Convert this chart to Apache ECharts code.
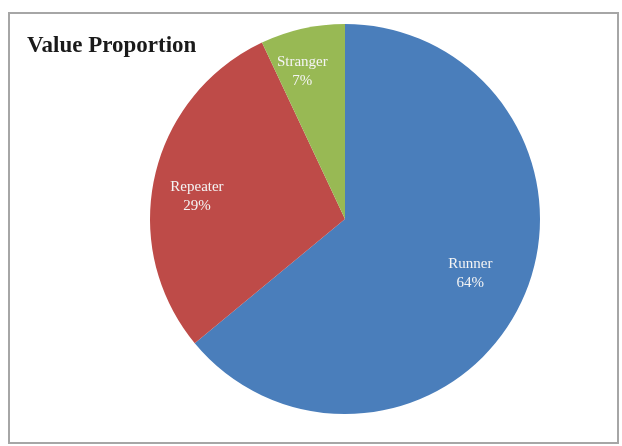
<!DOCTYPE html>
<html>
<head>
<meta charset="utf-8">
<script src="https://cdn.jsdelivr.net/npm/echarts@6/dist/echarts.min.js"></script>
<style>
  html, body { margin: 0; padding: 0; background: #fff; }
  #main { width: 622px; height: 446px; }
</style>
</head>
<body>
<div id="main"></div>
<script>
// 数据
var categories = ['Runner', 'Repeater', 'Stranger'];
var shares = [64, 29, 7];
var colors = ['#4a7ebb', '#be4b48', '#98b954'];

// 饼图位置
var cx = 345, cy = 219, radius = 195;
// 标签离圆心的比例 (Excel 的 best fit) + 微调
var labelRadius = [0.70, 0.77, 0.79];
var labelNudge = [[-2, -5], [3, 11], [-8, 8]];

var chart = echarts.init(document.getElementById('main'), null, { renderer: 'canvas' });

var pieData = categories.map(function (name, i) {
  return { name: name, value: shares[i], itemStyle: { color: colors[i] } };
});

var option = {
  backgroundColor: '#fff',
  animation: false,
  title: {
    text: 'Value Proportion',
    left: 22,
    top: 30,
    textStyle: {
      fontFamily: 'Liberation Serif',
      fontWeight: 'bold',
      fontSize: 23,
      color: '#1a1a1a'
    }
  },
  graphic: [{
    type: 'rect',
    shape: { x: 9, y: 13, width: 609, height: 430 },
    style: { fill: 'none', stroke: '#a6a6a6', lineWidth: 2 },
    silent: true
  }],
  series: [{
    type: 'pie',
    center: [cx, cy],
    radius: radius,
    startAngle: 90,
    clockwise: true,
    data: pieData,
    itemStyle: { borderWidth: 0 },
    label: {
      position: 'inside',
      formatter: '{b}\n{d}%',
      color: '#f4f4f4',
      fontFamily: 'Liberation Serif',
      fontSize: 15,
      lineHeight: 19
    },
    labelLine: { show: false },
    labelLayout: function (params) {
      var r = params.labelRect;
      var lx = r.x + r.width / 2, ly = r.y + r.height / 2;
      var k = labelRadius[params.dataIndex] / 0.5;
      var n = labelNudge[params.dataIndex];
      return {
        x: cx + (lx - cx) * k + n[0],
        y: cy + (ly - cy) * k + n[1],
        align: 'center',
        verticalAlign: 'middle'
      };
    }
  }]
};

chart.setOption(option);
</script>
</body>
</html>
